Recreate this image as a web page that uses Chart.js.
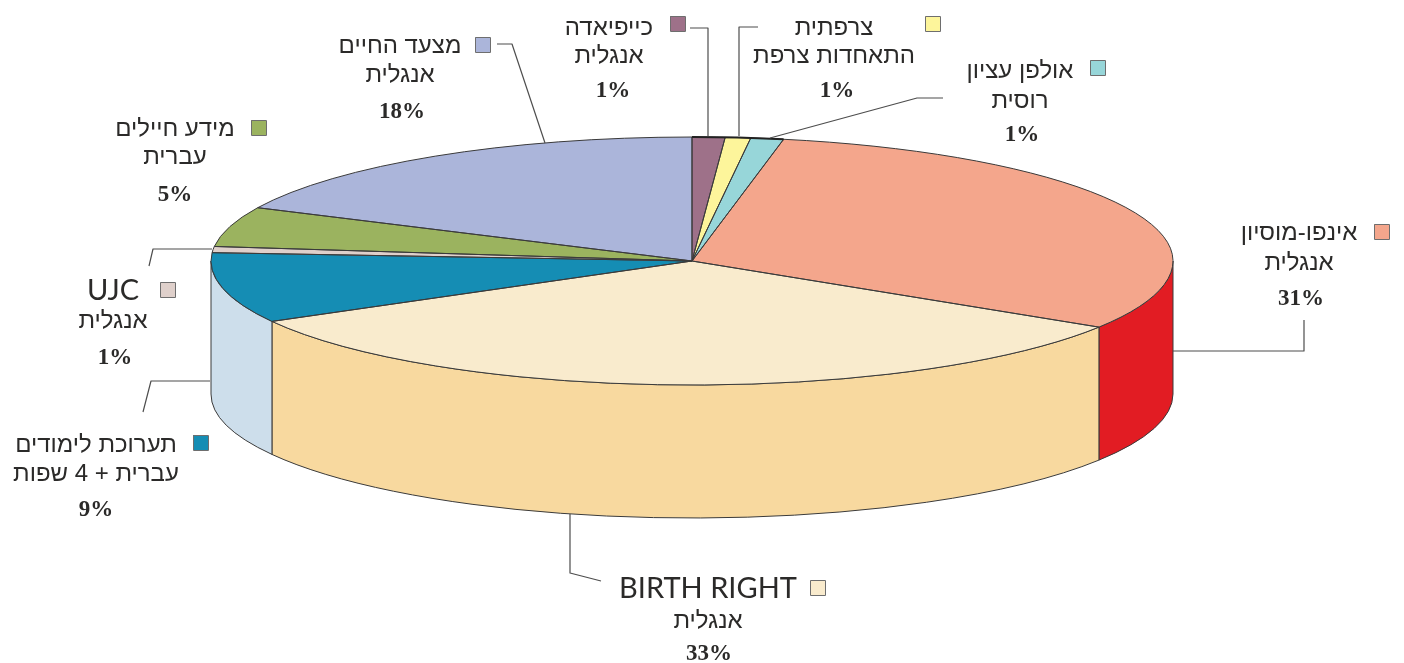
<!DOCTYPE html>
<html><head><meta charset="utf-8">
<style>html,body{margin:0;padding:0;background:#fff}#w{position:relative;width:1404px;height:663px}</style>
<script src="https://cdn.jsdelivr.net/npm/chart.js@4"></script>
</head><body><div id="w"><canvas id="c" width="1404" height="663"></canvas></div>
<script>
// --- data ---
const categories = ['כייפיאדה','צרפתית','אולפן עציון','אינפו-מוסיון','BIRTH RIGHT','תערוכת לימודים','UJC','מידע חיילים','מצעד החיים'];
const subtitles  = ['אנגלית','התאחדות צרפת','רוסית','אנגלית','אנגלית','עברית + 4 שפות','אנגלית','עברית','אנגלית'];
const values     = [1.1,0.85,1.1,30.9,32.95,9.17,0.8,5.2,17.93];
const topColors  = ['#9E7189','#FDF59B','#97D6D9','#F4A68C','#F9EBCD','#158DB4','#DFD0CB','#9BB35F','#ABB5DA'];
const sideColors = ['#7E5A6D','#DAD383','#7DB8BA','#E21C23','#F8D99F','#CDDEEB','#BFB1AC','#84994F','#919ABC'];

// --- layout of annotations ---
const EL = {cx:692, cy:261, rx:481, ry:124, depth:133};
const labelBoxes = [
 {x:609,px:613,y:[35,63,97],  m:[670,16]},
 {x:834,px:837,y:[35,63,97],  m:[925,16]},
 {x:1020,px:1022,y:[78,108,141],m:[1090,60]},
 {x:1299,px:1301,y:[240,270,305],m:[1374,224]},
 {x:708,px:709,y:[598,628,660],m:[810,580]},
 {x:96,px:96,y:[452,481,516],m:[193,435]},
 {x:113,px:115,y:[300,328,364],m:[160,282]},
 {x:175,px:175,y:[136,164,201],m:[251,120]},
 {x:400,px:402,y:[53,82,118],m:[475,37]}
];
const leaders = [
 [[690,28],[708,28],[708,136]],
 [[758,27],[739,27],[739,136]],
 [[943,98],[917,98],[770,138]],
 [[1173,351],[1304,351],[1304,320]],
 [[570,514],[570,573],[601,581]],
 [[210,381],[151,381],[143,412]],
 [[212,249],[153,249],[149,266]],
 [],
 [[497,44],[512,44],[545,143]]
];
const HEB = '"Liberation Sans","DejaVu Sans",sans-serif';

function applyEllipse(ctx, arc){
  const r = arc.outerRadius;
  ctx.translate(EL.cx, EL.cy);
  ctx.scale(EL.rx/r, EL.ry/r);
  ctx.translate(-arc.x, -arc.y);
}

const pie3d = {
  id:'pie3d',
  beforeDatasetDraw(chart){
    const ctx = chart.ctx, arcs = chart.getDatasetMeta(0).data;
    // side wall from the library's arc angles
    arcs.forEach((a,i)=>{
      const s = Math.max(a.startAngle,0), e = Math.min(a.endAngle,Math.PI);
      if (e<=s) return;
      ctx.save();
      ctx.beginPath();
      ctx.ellipse(EL.cx,EL.cy,EL.rx,EL.ry,0,s,e,false);
      ctx.ellipse(EL.cx,EL.cy+EL.depth,EL.rx,EL.ry,0,e,s,true);
      ctx.closePath();
      ctx.fillStyle = sideColors[i];
      ctx.fill();
      ctx.strokeStyle = '#3a3a3a'; ctx.lineWidth = 1;
      ctx.stroke();
      ctx.restore();
    });
    ctx.save();
    applyEllipse(ctx, arcs[0]);
  },
  afterDatasetDraw(chart){
    const ctx = chart.ctx, arcs = chart.getDatasetMeta(0).data;
    ctx.restore();
    // outlines stroked in screen space so the pen stays round
    arcs.forEach((a,i)=>{
      ctx.save();
      applyEllipse(ctx,a);
      ctx.beginPath();
      ctx.moveTo(a.x,a.y);
      ctx.arc(a.x,a.y,a.outerRadius,a.startAngle,a.endAngle);
      ctx.closePath();
      ctx.restore();
      ctx.strokeStyle='#3a3a3a'; ctx.lineWidth=1; ctx.lineJoin='round';
      ctx.stroke();
    });
    // heavier top rim on the three small slices
    ctx.save();
    const f=arcs[0], l=arcs[2];
    ctx.save(); applyEllipse(ctx,f);
    ctx.beginPath(); ctx.arc(f.x,f.y,f.outerRadius,f.startAngle,l.endAngle);
    ctx.restore();
    ctx.strokeStyle='#222'; ctx.lineWidth=2; ctx.stroke();
    ctx.restore();
  },
  afterDraw(chart){
    const ctx = chart.ctx;
    ctx.save();
    // leader lines
    ctx.strokeStyle='#4d4d4d'; ctx.lineWidth=1.2;
    leaders.forEach(p=>{
      if(!p.length) return;
      ctx.beginPath();
      p.forEach((q,i)=> i?ctx.lineTo(q[0],q[1]):ctx.moveTo(q[0],q[1]));
      ctx.stroke();
    });
    ctx.textAlign='center'; ctx.textBaseline='alphabetic'; ctx.fillStyle='#2b2a29';
    categories.forEach((name,i)=>{
      const b=labelBoxes[i];
      const latin=/^[A-Z ]+$/.test(name);
      ctx.direction = latin?'ltr':'rtl';
      ctx.font = latin ? '400 29px Lato,sans-serif' : '24px '+HEB;
      ctx.fillText(name,b.x,b.y[0]);
      ctx.direction='rtl';
      ctx.font='24px '+HEB;
      ctx.fillText(subtitles[i],b.x,b.y[1]);
      ctx.direction='ltr';
      ctx.font='bold 23px "Liberation Serif",serif';
      ctx.fillText(Math.round(values[i])+'%',b.px,b.y[2]);
      // legend key
      ctx.fillStyle=topColors[i];
      ctx.fillRect(b.m[0],b.m[1],15,15);
      ctx.strokeStyle='#6e6e6e'; ctx.lineWidth=1;
      ctx.strokeRect(b.m[0]+.5,b.m[1]+.5,15,15);
      ctx.fillStyle='#2b2a29';
    });
    ctx.restore();
  }
};

new Chart(document.getElementById('c'),{
  type:'pie',
  data:{labels:categories,datasets:[{data:values,backgroundColor:topColors,borderWidth:0,clip:false}]},
  options:{responsive:false,animation:false,rotation:0,
    layout:{padding:0},
    plugins:{legend:{display:false},tooltip:{enabled:false}},
    events:[]},
  plugins:[pie3d]
});
</script></body></html>
